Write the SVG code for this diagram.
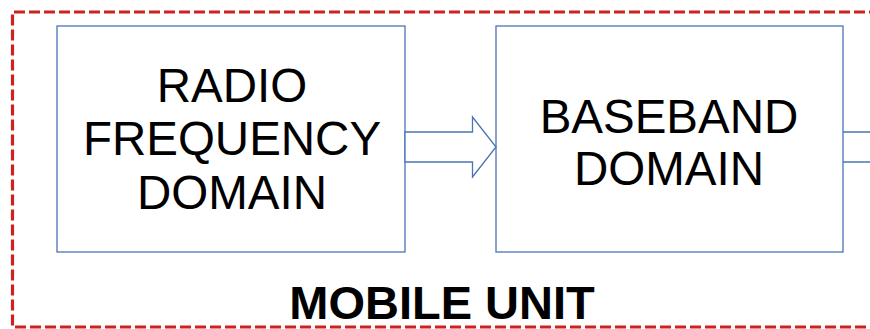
<svg xmlns="http://www.w3.org/2000/svg" width="870" height="329" viewBox="0 0 870 329">
  <style>
    .box { fill: #ffffff; stroke: #4a74b4; stroke-width: 1.3; }
    .lbl { font-family: "Liberation Sans", Arial, sans-serif; font-size: 47.5px; fill: #000000; text-anchor: middle; }
    .title { font-family: "Liberation Sans", Arial, sans-serif; font-size: 47px; font-weight: bold; fill: #000000; text-anchor: middle; }
    .frame { fill: none; stroke: #cc2222; stroke-width: 3.2; stroke-dasharray: 11 4; }
    .conn { fill: #ffffff; stroke: #4a74b4; stroke-width: 1.3; }
  </style>
  <rect width="870" height="329" fill="#ffffff"/>

  <!-- dashed enclosure of the mobile unit -->
  <path class="frame" d="M 880 12 L 12.5 12 L 12.5 327 L 880 327"/>

  <g id="radio-frequency-domain">
    <rect class="box" x="57" y="26" width="348" height="226"/>
    <text class="lbl" x="232" y="101.5">RADIO</text>
    <text class="lbl" x="232" y="155">FREQUENCY</text>
    <text class="lbl" x="232" y="208.5">DOMAIN</text>
  </g>

  <g id="baseband-domain">
    <rect class="box" x="496" y="26" width="347" height="226"/>
    <text class="lbl" x="669" y="133">BASEBAND</text>
    <text class="lbl" x="669" y="185">DOMAIN</text>
  </g>

  <g id="connectors">
    <!-- block arrow from RF to baseband -->
    <path class="conn" d="M 405 132 L 472.5 132 L 472.5 117 L 496 147 L 472.5 177 L 472.5 162 L 405 162 Z"/>
    <!-- outgoing band from baseband -->
    <path class="conn" d="M 843 132 L 872 132 M 843 162 L 872 162"/>
  </g>

  <g id="mobile-unit-label">
    <text class="title" x="442" y="319">MOBILE UNIT</text>
  </g>
</svg>
